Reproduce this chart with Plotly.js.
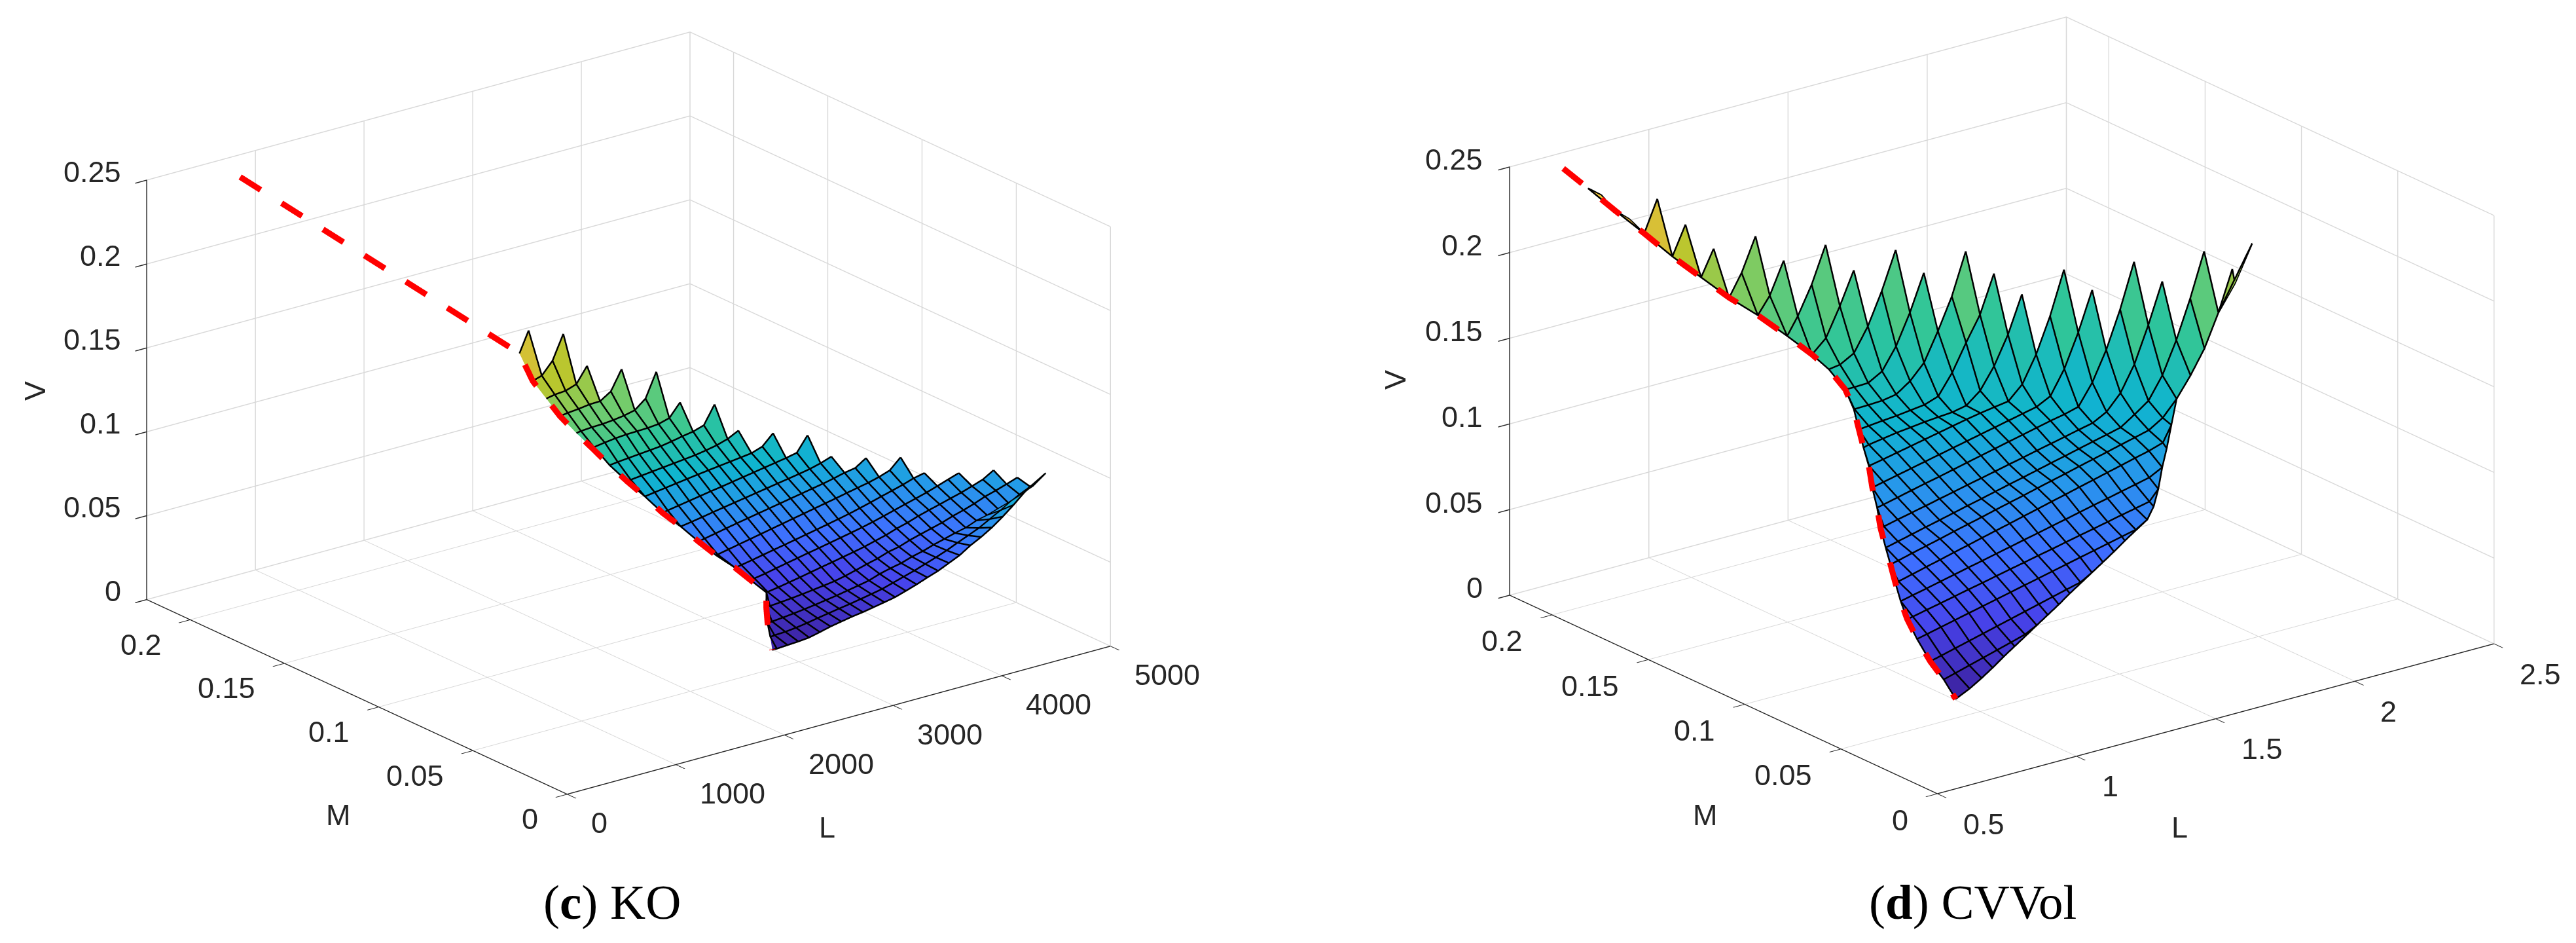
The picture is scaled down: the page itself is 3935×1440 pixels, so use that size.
<!DOCTYPE html>
<html><head><meta charset="utf-8"><script src="https://cdn.plot.ly/plotly-3.0.1.min.js"></script>
<style>html,body{margin:0;padding:0;background:#fff}</style></head><body><div id="g" style="width:3935px;height:1440px"></div>
<script>
/* ---------- panel (c) KO ---------- */
var koL=[2420,2519,2618,2717,2816,2915,3014,3113,3212,3311,3410,3509,3608,3707,3806,3905,4004,4103,4202,4301,4400,4499,4598,4697,4796,4895,4994];
var koM=[.0283,.0352,.0422,.0491,.0560,.0630,.0699,.0768,.0837,.0907,.0976,.1045,.1115,.1184,.1253,.1322,.1392,.1461,.1530,.1600];
var koFrontierL=[2378,2480,2576,2684,2805,2780,2757,2702,2661,2618,2570,2528,2486,2444,2408,2378,2348,2342,2336,2336];
var koFrontierV=[.0293,.0317,.0345,.0384,.0416,.0458,.0500,.0548,.0601,.0662,.0716,.0785,.0846,.0914,.0983,.1045,.1115,.1185,.1255,.1383];
var koRedTop={L:[782],M:[.2186],V:[.2404]};
var koRowStart=[0,1,2,3,4,4,4,3,3,2,2,2,1,1,0,0,0,0,0,0];
var koV=[
[.0293,.0297,.0301,.0307,.0322,.0338,.0350,.0362,.0371,.0383,.0395,.0408,.0428,.0449,.0473,.0495,.0524,.0553,.0594,.0627,.0666,.0713,.0765,.0822,.0863,.0903],
[.0320,.0323,.0330,.0340,.0352,.0363,.0374,.0384,.0396,.0408,.0421,.0440,.0459,.0478,.0500,.0522,.0546,.0574,.0600,.0627,.0662,.0696,.0735,.0765,.0790],
[.0348,.0354,.0361,.0369,.0378,.0388,.0398,.0410,.0422,.0435,.0457,.0473,.0486,.0507,.0522,.0543,.0560,.0578,.0592,.0617,.0631,.0652,.0668,.0703,.0732],
[.0387,.0392,.0398,.0405,.0413,.0421,.0430,.0444,.0461,.0479,.0495,.0517,.0530,.0552,.0570,.0587,.0604,.0626,.0644,.0665,.0690,.0708,.0729,.0751],
[.0418,.0428,.0440,.0452,.0465,.0478,.0490,.0503,.0516,.0530,.0547,.0564,.0586,.0603,.0625,.0643,.0660,.0678,.0695,.0716,.0738,.0776],
[.0462,.0473,.0487,.0500,.0513,.0526,.0538,.0551,.0564,.0577,.0591,.0606,.0623,.0641,.0659,.0676,.0694,.0715,.0737,.0758],
[.0506,.0518,.0531,.0544,.0556,.0569,.0582,.0595,.0608,.0622,.0636,.0652,.0669,.0687,.0704,.0722,.0743,.0757],
[.0550,.0563,.0576,.0589,.0602,.0615,.0628,.0641,.0654,.0667,.0680,.0693,.0707,.0720,.0733,.0750,.0772,.0832],
[.0609,.0622,.0635,.0648,.0660,.0672,.0684,.0696,.0708,.0720,.0732,.0744,.0758,.0774,.0785,.0827],
[.0662,.0672,.0683,.0695,.0706,.0717,.0728,.0739,.0750,.0761,.0772,.0783,.0795,.0812,.0834],
[.0722,.0733,.0744,.0755,.0766,.0776,.0787,.0798,.0809,.0820,.0831,.0842,.0856,.0943],
[.0794,.0803,.0812,.0821,.0830,.0838,.0846,.0854,.0862,.0870,.0892,.0954],
[.0850,.0857,.0864,.0871,.0878,.0885,.0892,.0903,.0916,.0936,.0968],
[.0920,.0926,.0932,.0938,.0944,.0955,.0968,.0979,.0999,.1106],
[.0990,.1000,.1008,.1013,.1015,.1017,.1023,.1041,.1117],
[.1050,.1055,.1057,.1063,.1072,.1087,.1139,.1281],
[.1122,.1128,.1137,.1139,.1180,.1295],
[.1195,.1200,.1222,.1314],
[.1272,.1344,.1486],
[.1505]];
/* ---------- panel (d) CVVol ---------- */
var cvL=[.764,.814,.864,.914,.964,1.014,1.064,1.114,1.164,1.214,1.264,1.314,1.364,1.414,1.464,1.514,1.564,1.614,1.664,1.714,1.764,1.814,1.864,1.914,1.964,2.014,2.064,2.114];
var cvM=[.0286,.0360,.0433,.0507,.0581,.0654,.0728,.0801,.0875,.0948,.1022,.1095,.1169,.1243,.1316,.1390,.1463,.1537,.1610,.1684,.1757,.1831,.1904,.1978,.2052,.2125,.2199];
var cvFrontierL=[.764,.772,.774,.778,.794,.821,.853,.886,.920,.952,.991,1.024,1.063,1.095,1.129,1.162,1.182,1.174,1.164,1.126,1.071,1.019,.969,.917,.867,.814,.767];
var cvFrontierV=[.0288,.0360,.0427,.0517,.0586,.0642,.0696,.0751,.0796,.0858,.0921,.0986,.1056,.1111,.1164,.1229,.1297,.1380,.1433,.1519,.1626,.1713,.1815,.1921,.2039,.2156,.2269];
var cvRedTop={L:[.689],M:[.2215],V:[.2411]};
var cvBottomM=[null,.0286,.0296,.0311,.0326,.0341,.0356,.0371,.0386,.0401,.0416,.0431,.0446,.0461,.0476,.0492,.0506,.0520,.0559,.0607,.0659,.0708,.0756,null,null,null,null,.0698];
var cvBottomV=[null,.0327,.0361,.0392,.0427,.0458,.0489,.0521,.0552,.0583,.0618,.0649,.0680,.0711,.0743,.0776,.0809,.0841,.0875,.0931,.1008,.1071,.1161,null,null,null,null,.2141];
var cvLastEdge={row:6,col:27,M:.0787,V:.1862};
var cvRowStart=[0,1,1,1,1,2,2,3,4,4,5,6,6,7,8,8,9,9,9,8,7,6,5,4,3,2,1];
var cvV=[
[.0288],
[.0379,.0402,.0425,.0448,.0471,.0495],
[.0443,.0464,.0485,.0506,.0527,.0548,.0569,.0590,.0611,.0632,.0652],
[.0530,.0549,.0568,.0587,.0605,.0624,.0643,.0662,.0680,.0699,.0718,.0737,.0755,.0774,.0793,.0811],
[.0593,.0611,.0628,.0646,.0664,.0681,.0699,.0717,.0734,.0752,.0769,.0787,.0805,.0822,.0840,.0858,.0875,.0893],
[.0658,.0676,.0695,.0713,.0732,.0750,.0769,.0787,.0806,.0824,.0843,.0861,.0880,.0899,.0917,.0936,.0954,.0973],
[.0700,.0720,.0741,.0761,.0782,.0802,.0823,.0843,.0863,.0884,.0904,.0925,.0945,.0966,.0986,.1007,.1027,.1048,.1068,.1094],
[.0762,.0783,.0803,.0823,.0844,.0864,.0884,.0905,.0925,.0945,.0966,.0986,.1006,.1027,.1047,.1067,.1088,.1108,.1129,.1179,.1268,.1383,.1518,.1705,.1938],
[.0813,.0833,.0853,.0872,.0892,.0912,.0931,.0951,.0971,.0990,.1010,.1030,.1049,.1069,.1089,.1108,.1128,.1182,.1240,.1367,.1550,.1772,.2025],
[.0862,.0881,.0899,.0917,.0936,.0954,.0973,.0991,.1009,.1028,.1046,.1065,.1083,.1101,.1120,.1138,.1181,.1269,.1415,.1622,.1855],
[.0930,.0949,.0968,.0987,.1005,.1024,.1043,.1062,.1081,.1100,.1118,.1137,.1156,.1172,.1194,.1314,.1482,.1697,.1953],
[.1001,.1019,.1037,.1055,.1073,.1091,.1109,.1127,.1145,.1163,.1181,.1199,.1240,.1377,.1568,.1794],
[.1057,.1073,.1090,.1107,.1124,.1141,.1158,.1175,.1190,.1203,.1215,.1292,.1445,.1647,.1896],
[.1120,.1133,.1146,.1155,.1165,.1172,.1178,.1195,.1260,.1381,.1544,.1757],
[.1170,.1178,.1185,.1195,.1205,.1233,.1349,.1502,.1644,.1862],
[.1229,.1231,.1235,.1249,.1305,.1390,.1553,.1734,.1975],
[.1297,.1300,.1346,.1470,.1645,.1855],
[.1390,.1435,.1570,.1754,.1972],
[.1507,.1672,.1859],
[.1618,.1781,.1991],
[.1722,.1905],
[.1838,.2030],
[.1963],
[.2087],
[.2220],
[.2086],
[.2210]];
var koLTicks=[0,1000,2000,3000,4000,5000],cvLTicks=[.5,1,1.5,2,2.5];
var mTicks=[0,.05,.1,.15,.2],vTicks=[0,.05,.1,.15,.2,.25];
var parula=[[0,'#3E26A8'],[.1,'#4743EB'],[.2,'#3E6FFF'],[.3,'#2797EB'],[.4,'#0FB4CF'],[.5,'#2EC59B'],[.6,'#70CC6E'],[.7,'#B8C72E'],[.8,'#F1BA3C'],[.9,'#FCD535'],[1,'#F9FB15']];

/* Builds the mesh: cells left of the frontier collapse onto the frontier, cells below a column's lowest row onto that column's lower edge. */
function mesh(p){
  var n=p.L.length,J=p.M.length,minRow=[],i,j;
  for(i=0;i<n;i++){minRow[i]=Infinity;for(j=0;j<J;j++){var s=p.start[j],e=s+p.V[j].length-1;if(i>=s&&i<=e&&j<minRow[i])minRow[i]=j;}}
  var X=[],Y=[],Z=[];
  for(j=0;j<J;j++){var xr=[p.fL[j]],yr=[p.M[j]],zr=[p.fV[j]],s0=p.start[j],e0=s0+p.V[j].length-1;
    for(i=0;i<n;i++){
      if(i<s0){xr.push(p.fL[j]);yr.push(p.M[j]);zr.push(p.fV[j]);}
      else if(i<=e0){xr.push(p.L[i]);yr.push(p.M[j]);zr.push(p.V[j][i-s0]);}
      else if(j<minRow[i]){xr.push(p.L[i]);
        if(p.last&&p.last.row===j&&p.last.col===i){yr.push(p.last.M);zr.push(p.last.V);}
        else if(p.bM&&p.bM[i]!=null){yr.push(p.bM[i]);zr.push(p.bV[i]);}
        else{yr.push(p.M[minRow[i]]);zr.push(p.V[minRow[i]][i-p.start[minRow[i]]]);}}
      else{xr.push(p.L[i]);yr.push(p.M[j]);zr.push(null);}
    }
    X.push(xr);Y.push(yr);Z.push(zr);}
  var vx=[],vy=[],vz=[],idx=[],ti=[],tj=[],tk=[],cell=[];
  Z.forEach(function(r,j){idx[j]=[];r.forEach(function(v,k){if(v!=null){idx[j][k]=vx.length;vx.push(X[j][k]);vy.push(Y[j][k]);vz.push(v);}});});
  for(j=1;j<J;j++){for(var k=1;k<=n;k++){
    if(Z[j][k]!=null&&Z[j-1][k]!=null&&Z[j][k-1]!=null&&Z[j-1][k-1]!=null){
      ti.push(idx[j-1][k-1],idx[j-1][k-1]);tj.push(idx[j-1][k],idx[j][k]);tk.push(idx[j][k],idx[j][k-1]);
      cell.push(Z[j-1][k-1],Z[j-1][k-1]);}}}
  var lx=[],ly=[],lz=[];
  function add(a,b,c){lx.push(a);ly.push(b);lz.push(c);}
  X.forEach(function(r,j){r.forEach(function(v,k){if(Z[j][k]!=null)add(v,Y[j][k],Z[j][k]);});add(null,null,null);});
  for(k=1;k<=n;k++){for(j=0;j<J;j++){if(Z[j][k]!=null)add(X[j][k],Y[j][k],Z[j][k]);}add(null,null,null);}
  return {vx:vx,vy:vy,vz:vz,ti:ti,tj:tj,tk:tk,cell:cell,lx:lx,ly:ly,lz:lz};
}
/* Splits a solid polyline into dash pieces, measured in screen pixels along it. */
function dashes(L,M,V,p,on,off){
  var x=[],y=[],z=[],pos=0,period=on+off;
  function sl(a,b){var d0=(L[b]-L[a])/p.lSpan,d1=(M[b]-M[a])/p.mSpan,d2=(V[b]-V[a])/p.vSpan;
    return Math.hypot(p.lv[0]*d0+p.mv[0]*d1,p.lv[1]*d0+p.mv[1]*d1+p.vv*d2);}
  for(var a=0;a<L.length-1;a++){var len=sl(a,a+1),t=0;
    while(t<len-1e-9){var ph=pos%period,draw=ph<on,step=Math.min(len-t,(draw?on:period)-ph);
      if(draw){var f0=t/len,f1=(t+step)/len;
        x.push(L[a]+(L[a+1]-L[a])*f0,L[a]+(L[a+1]-L[a])*f1);y.push(M[a]+(M[a+1]-M[a])*f0,M[a]+(M[a+1]-M[a])*f1);z.push(V[a]+(V[a+1]-V[a])*f0,V[a]+(V[a+1]-V[a])*f1);
        if(ph+step>=on-1e-6){x.push(null);y.push(null);z.push(null);}}
      t+=step;pos+=step;}}
  return {x:x,y:y,z:z};
}
/* Moves a line slightly toward the camera, along the viewing ray, so it draws on top of the surface without changing where it lands on screen. */
function toCam(xs,ys,zs,p,eps){
  var a=p.alpha*Math.PI/180,t=p.theta*Math.PI/180,
      dx=-Math.sin(a)*Math.cos(t)*eps*p.lSpan/(p.asp.x*p.k),dy=-Math.cos(a)*Math.cos(t)*eps*p.mSpan/(p.asp.y*p.k),dz=Math.sin(t)*eps*p.vSpan/(p.asp.z*p.k);
  function sh(arr,d){return arr.map(function(v){return v==null?null:v+d;});}
  return {x:sh(xs,dx),y:sh(ys,dy),z:sh(zs,dz)};
}
var txt='#262626',sans='Liberation Sans',fs=45;
function ax(r,t){return {range:r,autorange:false,tickmode:'array',tickvals:t,showticklabels:false,ticks:'outside',ticklen:22,tickwidth:3,tickcolor:txt,showline:true,linecolor:txt,linewidth:3,showgrid:true,gridcolor:'#d8d8d8',gridwidth:3,showbackground:false,zeroline:false,showspikes:false,title:{text:''}};}
function lab(x,y,z,t,xa,dx,dy){return {x:x,y:y,z:z,text:String(t),showarrow:false,xanchor:xa,yanchor:'middle',xshift:dx,yshift:dy,font:{family:sans,size:fs,color:txt}};}
var PXW=727,SCL=722;
function sc(dom,s,dx,up,alpha,theta,asp,lr,lt,mr,dxs){
  var R=3,k=s/SCL,a=alpha*Math.PI/180,t=theta*Math.PI/180,h=-dx/PXW,cx=h*Math.cos(a),cy=-h*Math.sin(a),cz=-up/(PXW*Math.cos(t));
  var anns=[];
  vTicks.forEach(function(v){anns.push(lab(lr[0],mr[1],v,v,'right',dxs[0],dxs[1]));});
  mTicks.forEach(function(v){anns.push(lab(lr[0],v,0,v,'right',dxs[2],dxs[3]));});
  lt.forEach(function(v){anns.push(lab(v,0,0,v,'left',dxs[4],dxs[5]));});
  return {domain:{x:dom,y:[0,1]},aspectmode:'manual',aspectratio:{x:asp.x*k,y:asp.y*k,z:asp.z*k},annotations:anns,
    camera:{projection:{type:'orthographic'},up:{x:0,y:0,z:1},center:{x:cx,y:cy,z:cz},eye:{x:cx-R*Math.sin(a)*Math.cos(t),y:cy-R*Math.cos(a)*Math.cos(t),z:cz+R*Math.sin(t)}},
    xaxis:ax(lr,lt),yaxis:ax(mr,mTicks),zaxis:ax([0,.25],vTicks)};
}
var A1={x:1,y:1.0086,z:.655},A2={x:1,y:1.0084,z:.654};
var P1={L:koL,M:koM,fL:koFrontierL,fV:koFrontierV,start:koRowStart,V:koV,lSpan:5000,mSpan:.2231,vSpan:.25,lv:[832,227],mv:[-644,298],vv:642,alpha:37.5,theta:20.8,asp:A1,k:1049/SCL};
var P2={L:cvL,M:cvM,fL:cvFrontierL,fV:cvFrontierV,start:cvRowStart,V:cvV,bM:cvBottomM,bV:cvBottomV,last:cvLastEdge,lSpan:2,mSpan:.222,vSpan:.25,lv:[853,230],mv:[-655,304],vv:656,alpha:37.3,theta:20.7,asp:A2,k:1072/SCL};
function traces(p,top,scene,cmin,cmax){
  var m=mesh(p);
  var rl=top.L.concat(p.fL.slice().reverse()),rm=top.M.concat(p.M.slice().reverse()),rv=top.V.concat(p.fV.slice().reverse());
  var d=dashes(rl,rm,rv,p,37,38),ml=toCam(m.lx,m.ly,m.lz,p,.004),rd=toCam(d.x,d.y,d.z,p,.006);
  return [
   {type:'mesh3d',scene:scene,x:m.vx,y:m.vy,z:m.vz,i:m.ti,j:m.tj,k:m.tk,intensity:m.cell,intensitymode:'cell',cmin:cmin,cmax:cmax,colorscale:parula,showscale:false,hoverinfo:'skip',flatshading:true,
    lighting:{ambient:1,diffuse:0,specular:0,roughness:1,fresnel:0}},
   {type:'scatter3d',scene:scene,mode:'lines',x:ml.x,y:ml.y,z:ml.z,line:{color:'#000',width:5},hoverinfo:'skip',connectgaps:false},
   {type:'scatter3d',scene:scene,mode:'lines',x:rd.x,y:rd.y,z:rd.z,line:{color:'#ff0000',width:18},hoverinfo:'skip',connectgaps:false}
  ];
}
function pa(px,py,t,size,fam,rot){return {xref:'paper',yref:'paper',x:px/3935,y:1-py/1440,text:t,showarrow:false,xanchor:'center',yanchor:'middle',textangle:rot||0,font:{family:fam,size:size,color:size>60?'#000':txt}};}
var layout={width:3935,height:1440,margin:{l:0,r:0,t:0,b:0},paper_bgcolor:'#fff',showlegend:false,
 scene:sc([0,.5],1049,-24,90,37.5,20.8,A1,[0,5000],koLTicks,[0,.2231],[-37,13,-42,-38,35,-44]),
 scene2:sc([.5,1],1072,107,102,37.3,20.7,A2,[.5,2.5],cvLTicks,[0,.222],[-39,11,-42,-40,38,-46]),
 annotations:[pa(53,597,'V',fs,sans,-90),pa(517,1244,'M',fs,sans),pa(1263,1263,'L',fs,sans),
  pa(2131,580,'V',fs,sans,-90),pa(2605,1244,'M',fs,sans),pa(3329,1263,'L',fs,sans),
  pa(935,1377,'(<b>c</b>) KO',75,'Liberation Serif'),pa(3013,1377,'(<b>d</b>) CVVol',75,'Liberation Serif')]};
var data=traces(P1,koRedTop,'scene',.0293,.158).concat(traces(P2,cvRedTop,'scene2',.0288,.245));
Plotly.newPlot('g',data,layout,{displayModeBar:false});
</script></body></html>
